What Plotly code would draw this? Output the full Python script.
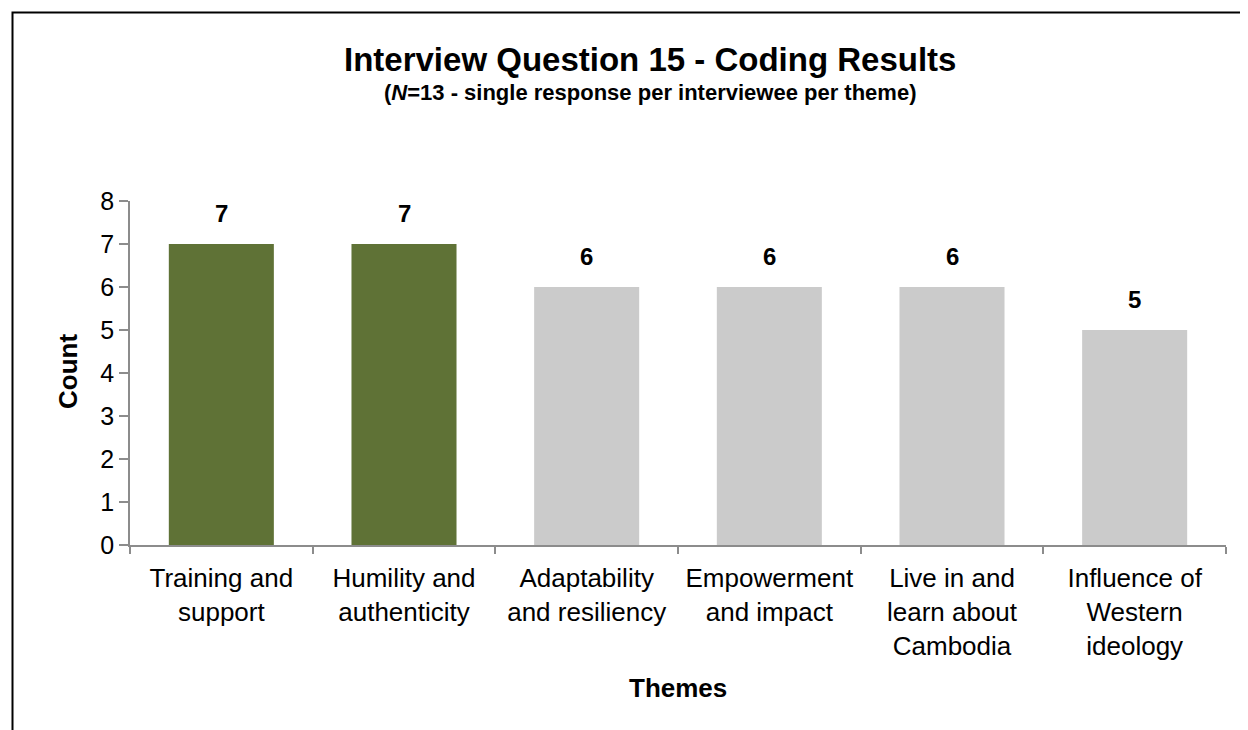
import plotly.graph_objects as go

themes = ["Training and<br>support", "Humility and<br>authenticity", "Adaptability<br>and resiliency",
          "Empowerment<br>and impact", "Live in and<br>learn about<br>Cambodia", "Influence of<br>Western<br>ideology"]
counts = [7, 7, 6, 6, 6, 5]
bar_colors = ["#5F7236", "#5F7236", "#CBCBCB", "#CBCBCB", "#CBCBCB", "#CBCBCB"]
y_ticks = [0, 1, 2, 3, 4, 5, 6, 7, 8]

FONT = "Arial, Liberation Sans, sans-serif"
OFF = 8  # page body margin
W, H = 1240, 722
L, R, T, B = 130 - OFF, 22, 201 - OFF, 185
PW, PH = W - L - R, H - T - B

def px_x(px):  # page pixel -> paper
    return (px - OFF - L) / PW

def px_y(py):
    return (H - B - (py - OFF)) / PH

fig = go.Figure()
fig.add_trace(go.Bar(x=themes, y=counts, marker=dict(color=bar_colors, line=dict(width=0)),
                     hoverinfo="skip"))

for th, c in zip(themes, counts):
    fig.add_annotation(x=th, y=c, text=f"<b>{c}</b>", showarrow=False, yshift=31,
                       font=dict(family=FONT, size=24, color="black"))

fig.add_annotation(xref="paper", yref="paper", x=px_x(650), y=px_y(60),
                   text="<b>Interview Question 15 - Coding Results</b>", showarrow=False,
                   font=dict(family=FONT, size=33, color="black"), xanchor="center", yanchor="middle")
fig.add_annotation(xref="paper", yref="paper", x=px_x(650), y=px_y(92),
                   text="<b>(<i>N</i>=13 - single response per interviewee per theme)</b>", showarrow=False,
                   font=dict(family=FONT, size=22, color="black"), xanchor="center", yanchor="middle")
fig.add_annotation(xref="paper", yref="paper", x=px_x(68), y=px_y(372),
                   text="<b>Count</b>", showarrow=False, textangle=-90,
                   font=dict(family=FONT, size=26, color="black"), xanchor="center", yanchor="middle")
fig.add_annotation(xref="paper", yref="paper", x=px_x(678), y=px_y(688),
                   text="<b>Themes</b>", showarrow=False,
                   font=dict(family=FONT, size=26, color="black"), xanchor="center", yanchor="middle")

fig.add_shape(type="rect", xref="paper", yref="paper",
              x0=px_x(12.5), x1=px_x(1300), y0=px_y(800), y1=px_y(12.5),
              line=dict(color="black", width=2), fillcolor="rgba(0,0,0,0)", layer="above")

fig.update_layout(
    width=W, height=H, margin=dict(l=L, r=R, t=T, b=B, pad=0),
    paper_bgcolor="white", plot_bgcolor="white", showlegend=False,
    bargap=0.425,
    font=dict(family=FONT, color="black"),
)
fig.update_xaxes(showline=True, linecolor="#8C8C8C", linewidth=1.5, ticks="outside",
                 tickson="boundaries", ticklen=7, tickcolor="#8C8C8C", tickwidth=1.5,
                 ticklabelstandoff=9,
                 tickfont=dict(family=FONT, size=26, color="black"), showgrid=False, zeroline=False)
fig.update_yaxes(range=[0, 8], tickvals=y_ticks, showline=True, linecolor="#8C8C8C", linewidth=1.5,
                 ticks="outside", ticklen=9, tickcolor="#8C8C8C", tickwidth=1.5,
                 tickfont=dict(family=FONT, size=25, color="black"), showgrid=False, zeroline=False)

fig.write_html("out.html")
